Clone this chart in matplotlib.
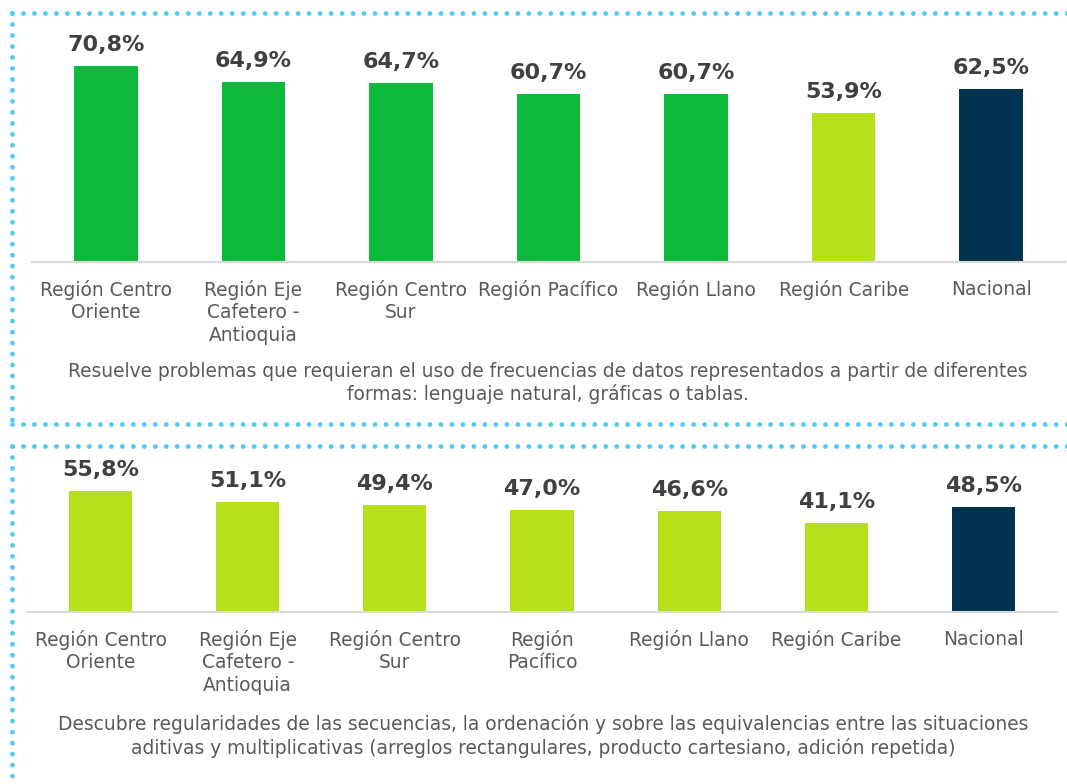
import matplotlib
matplotlib.use("Agg")
import matplotlib.pyplot as plt
from matplotlib.lines import Line2D

plt.rcParams['font.family'] = ['DejaVu Sans']
plt.rcParams['lines.scale_dashes'] = False

# Data
labels_top = ["Región Centro\nOriente", "Región Eje\nCafetero -\nAntioquia", "Región Centro\nSur",
              "Región Pacífico", "Región Llano", "Región Caribe", "Nacional"]
values_top = [70.8, 64.9, 64.7, 60.7, 60.7, 53.9, 62.5]
colors_top = ["#0DB93A"] * 5 + ["#B6E11A", "#00334F"]
caption_top = ("Resuelve problemas que requieran el uso de frecuencias de datos representados a partir de diferentes\n"
               "formas: lenguaje natural, gráficas o tablas.")

labels_bot = ["Región Centro\nOriente", "Región Eje\nCafetero -\nAntioquia", "Región Centro\nSur",
              "Región\nPacífico", "Región Llano", "Región Caribe", "Nacional"]
values_bot = [55.8, 51.1, 49.4, 47.0, 46.6, 41.1, 48.5]
colors_bot = ["#B6E11A"] * 6 + ["#00334F"]
caption_bot = ("Descubre regularidades de las secuencias, la ordenación y sobre las equivalencias entre las situaciones\n"
               "aditivas y multiplicativas (arreglos rectangulares, producto cartesiano, adición repetida)")

W, H = 1067, 784
fig = plt.figure(figsize=(W / 100, H / 100), dpi=100)

def px_axes(x0, x1, y_top, y_base):
    return fig.add_axes([x0 / W, 1 - y_base / H, (x1 - x0) / W, (y_base - y_top) / H])

TXT = "#595959"
VAL = "#404040"
FS = 13.4

def panel(ax, labels, values, colors, ymax):
    x = list(range(len(values)))
    ax.bar(x, values, width=0.43, color=colors, zorder=2)
    ax.set_xlim(-0.5, len(values) - 0.5)
    ax.set_ylim(0, ymax)
    for s in ["top", "right", "left"]:
        ax.spines[s].set_visible(False)
    ax.spines["bottom"].set_color("#D9D9D9")
    ax.spines["bottom"].set_linewidth(1.5)
    ax.set_yticks([])
    ax.set_xticks(x)
    ax.set_xticklabels(labels, fontsize=FS, color=TXT, linespacing=1.22, va="top")
    ax.tick_params(axis="x", length=0, pad=13)
    for xi, v in zip(x, values):
        ax.annotate(f"{v:.1f}%".replace(".", ","), (xi, v), xytext=(0, 8),
                    textcoords="offset points", ha="center", va="bottom",
                    fontsize=16, fontweight="bold", color=VAL)

ax1 = px_axes(32, 1065, 20, 262)
panel(ax1, labels_top, values_top, colors_top, 242 / 2.77)
ax2 = px_axes(27, 1057, 452, 612)
panel(ax2, labels_bot, values_bot, colors_bot, 160 / 2.16)

fig.text(548 / W, 1 - 383 / H, caption_top, ha="center", va="center",
         fontsize=FS, color=TXT, linespacing=1.22)
fig.text(543 / W, 1 - 736 / H, caption_bot, ha="center", va="center",
         fontsize=FS, color=TXT, linespacing=1.22)

# Dotted borders
DOT = "#52CBF4"
def dotted(xs, ys):
    fig.add_artist(Line2D([x / W for x in xs], [1 - y / H for y in ys],
                          transform=fig.transFigure, color=DOT, linewidth=3.5,
                          dashes=(0.01, 7.9), solid_capstyle="round",
                          dash_capstyle="round"))

dotted([12, 1067], [13, 13])
dotted([12, 12], [13, 424])
dotted([12, 1067], [424, 424])
dotted([12, 1067], [446, 446])
dotted([12, 12], [446, 784])

fig.savefig("out.png", dpi=100)
